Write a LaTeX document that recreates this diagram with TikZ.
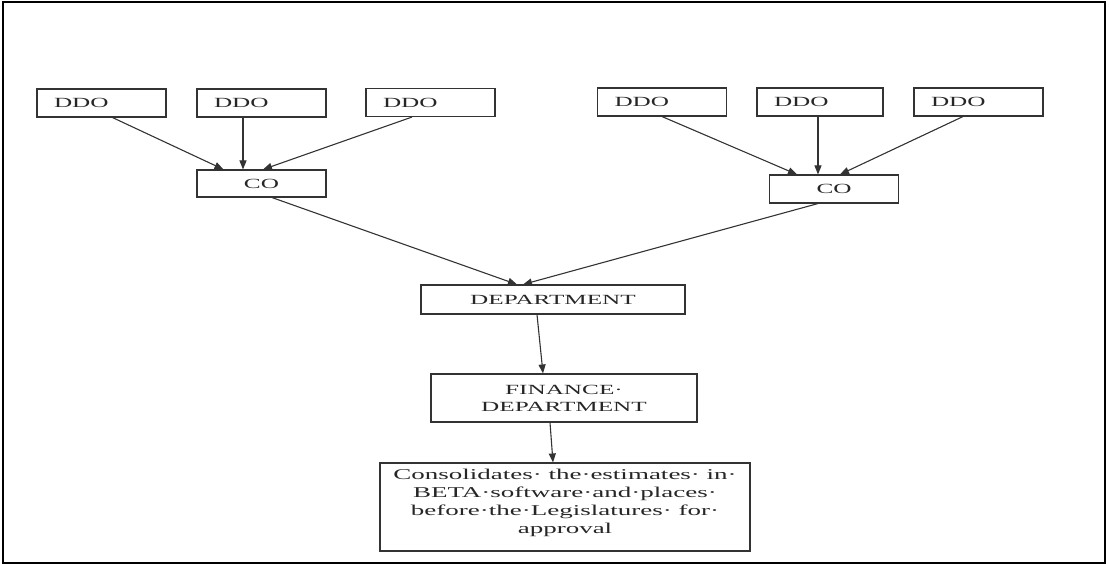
\documentclass[tikz,border=0pt]{standalone}
\usepackage{fontspec}
\setmainfont{Liberation Serif}[FakeStretch=1.8]
\usetikzlibrary{arrows.meta}
\tikzset{
  box/.style={draw=black!80, line width=1.1pt, text=black!85, inner sep=2pt,
    font=\fontsize{14}{17}\selectfont},
  ddobox/.style={box, text width=95pt, inner xsep=17pt, align=left, minimum height=28pt},
  cobox/.style={box, minimum width=129pt, minimum height=27pt},
  flow/.style={draw=black!80, line width=1.1pt, -{Triangle[length=9pt,width=7pt]}},
}

\begin{document}
\begin{tikzpicture}[x=1pt,y=-1pt]
    \useasboundingbox (0,0) rectangle (1109,564);
    \draw[line width=2pt] (3,2) rectangle (1105,563);
    % top row
    \node[ddobox] (ddoA) at (101.5,103) {DDO};
    \node[ddobox] (ddoB) at (261.5,103) {DDO};
    \node[ddobox] (ddoC) at (430.5,102.5) {DDO};
    \node[ddobox] (ddoD) at (662,102) {DDO};
    \node[ddobox, text width=92pt] (ddoE) at (820,102) {DDO};
    \node[ddobox] (ddoF) at (978.5,102) {DDO};
    % controlling officers
    \node[cobox] (coA) at (261.5,183.5) {CO};
    \node[cobox, minimum height=28pt] (coB) at (834,189) {CO};
    \node[box, minimum width=264pt, minimum height=29pt] (dept) at (553,299.5) {DEPARTMENT};
    \node[box, minimum width=266pt, minimum height=48pt, align=center] (fin) at (564,398)
      {FINANCE·\\DEPARTMENT};
    \node[box, minimum width=370pt, minimum height=88pt, align=center, text depth=11pt,
      font=\fontsize{15}{18}\selectfont] (cons) at (565,507)
      {Consolidates·\ the·estimates·\ in·\\BETA·software·and·places·\\
       before·the·Legislatures·\ for·\\approval};
    % arrows
    \draw[flow] ([xshift=11pt]ddoA.south) -- ([xshift=-38pt]coA.north);
    \draw[flow] ([xshift=-18.5pt]ddoB.south) -- ([xshift=-18.5pt]coA.north);
    \draw[flow] ([xshift=-18.5pt]ddoC.south) -- ([xshift=1.5pt]coA.north);
    \draw[flow] (ddoD.south) -- ([xshift=-37pt]coB.north);
    \draw[flow] ([xshift=-2pt]ddoE.south) -- ([xshift=-16pt]coB.north);
    \draw[flow] ([xshift=-15.5pt]ddoF.south) -- ([xshift=6pt]coB.north);
    \draw[flow] ([xshift=10.5pt]coA.south) -- ([xshift=-36pt]dept.north);
    \draw[flow] ([xshift=-16pt]coB.south) -- ([xshift=-30pt]dept.north);
    \draw[flow] ([xshift=-16pt]dept.south) -- ([xshift=-21pt]fin.north);
    \draw[flow] ([xshift=-14pt]fin.south) -- ([xshift=-12pt]cons.north);
\end{tikzpicture}
\end{document}
